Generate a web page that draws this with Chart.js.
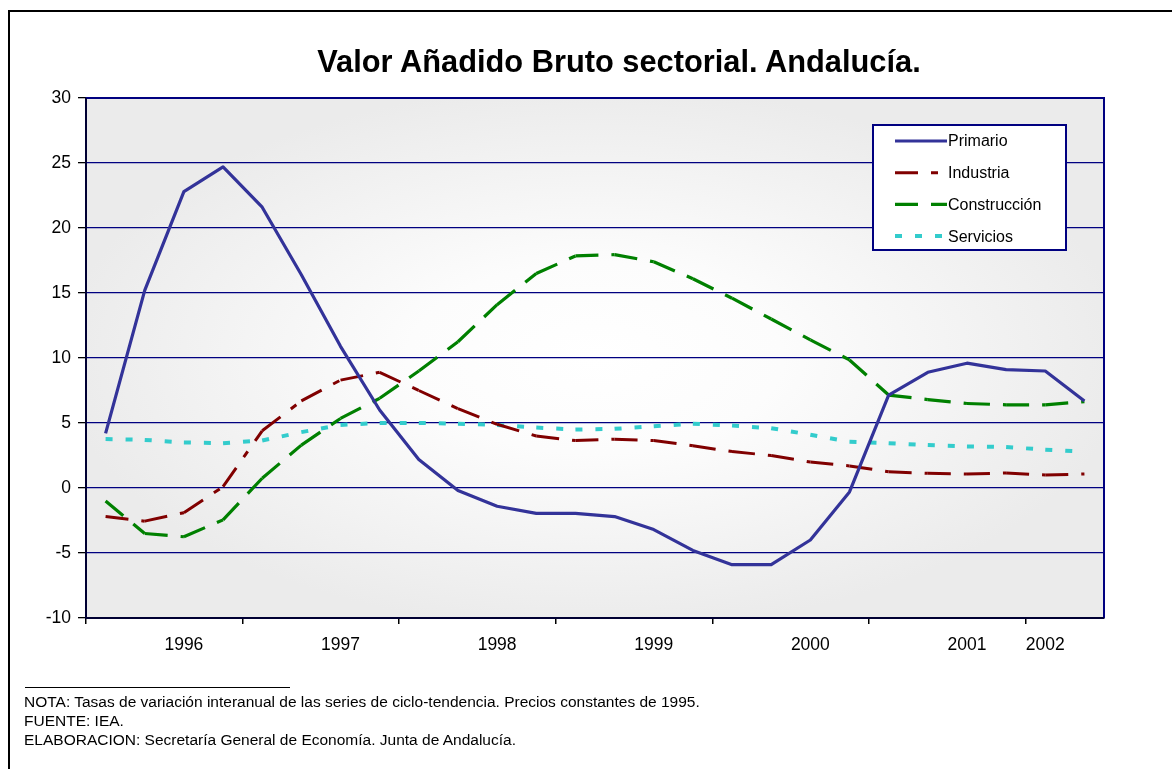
<!DOCTYPE html>
<html>
<head>
<meta charset="utf-8">
<title>Valor Añadido Bruto sectorial. Andalucía.</title>
<script src="https://cdn.jsdelivr.net/npm/chart.js@4.4.1/dist/chart.umd.min.js"></script>
<style>
  html, body { margin: 0; padding: 0; overflow: hidden; background: #fff; }
  body { font-family: Arial, "Liberation Sans", sans-serif; color: #000; }
  #frame { position: absolute; left: 8px; top: 10px; width: 1300px; height: 900px; border: 2px solid #000; }
  #wrap { position: absolute; left: 0; top: 0; width: 1172px; height: 769px; }
  #title { position: absolute; left: 0; top: 44px; width: 1238px; text-align: center;
           font-weight: bold; font-size: 30.8px; line-height: 36px; }
  #rule { position: absolute; left: 25px; top: 687px; width: 265px; border-top: 1px solid #000; }
  #notes { position: absolute; left: 24px; top: 692px; font-size: 15.5px; line-height: 19px; }
</style>
</head>
<body>
<div id="frame"></div>
<div id="wrap"><canvas id="vabChart"></canvas></div>
<div id="title">Valor Añadido Bruto sectorial. Andalucía.</div>
<div id="rule"></div>
<div id="notes">
  NOTA: Tasas de variación interanual de las series de ciclo-tendencia. Precios constantes de 1995.<br>
  FUENTE: IEA.<br>
  ELABORACION: Secretaría General de Economía. Junta de Andalucía.
</div>
<script>
// trimestres: solo se rotula el año en algunas posiciones
var categories = ["", "", "1996", "", "", "", "1997", "", "", "", "1998", "", "", "",
  "1999", "", "", "", "2000", "", "", "", "2001", "", "2002", ""];

var primario = [4.2, 15.2, 22.8, 24.7, 21.6, 16.4, 10.9, 6.0, 2.2, -0.2, -1.4, -1.95, -1.95,
  -2.2, -3.2, -4.8, -5.9, -5.9, -4.0, -0.3, 7.15, 8.9, 9.6, 9.1, 9.0, 6.7];
var industria = [-2.2, -2.55, -1.9, 0.1, 4.4, 6.7, 8.3, 8.9, 7.5, 6.1, 4.9, 4.0, 3.65,
  3.75, 3.65, 3.25, 2.8, 2.5, 2.0, 1.7, 1.25, 1.13, 1.08, 1.15, 1.0, 1.08];
var construccion = [-1.0, -3.5, -3.75, -2.45, 0.75, 3.3, 5.35, 6.9, 9.0, 11.25, 14.1, 16.5, 17.85,
  17.95, 17.4, 16.1, 14.6, 13.0, 11.4, 9.85, 7.15, 6.8, 6.5, 6.4, 6.4, 6.65];
var servicios = [3.77, 3.7, 3.5, 3.45, 3.65, 4.3, 4.85, 5.0, 5.0, 4.95, 4.85, 4.65, 4.5,
  4.55, 4.75, 4.95, 4.8, 4.6, 4.1, 3.55, 3.45, 3.3, 3.2, 3.15, 2.95, 2.8];

var seriesNames = ["Primario", "Industria", "Construcción", "Servicios"];
var yMin = -10, yMax = 30, yStep = 5;

// el patron de trazos se reinicia en cada tramo, como en Excel
var restartDash = {
  borderDashOffset: function (c) { return c.p0DataIndex % 2 ? 0.001 : 0; }
};

// fondo gris degradado del area de trazado
var plotBg = {
  id: "plotBg",
  beforeDraw: function (chart) {
    var a = chart.chartArea, ctx = chart.ctx;
    var w = a.right - a.left, h = a.bottom - a.top;
    ctx.save();
    ctx.translate(a.left + w / 2, a.top + h / 2);
    ctx.scale(w / 2, h / 2);
    var g = ctx.createRadialGradient(0, 0, 0, 0, 0, 1.05);
    g.addColorStop(0, "#ffffff");
    g.addColorStop(0.35, "#fcfcfc");
    g.addColorStop(1, "#ebebeb");
    ctx.fillStyle = g;
    ctx.fillRect(-1, -1, 2, 2);
    ctx.restore();
  }
};

// marco del area y leyenda dentro del grafico
var frameAndLegend = {
  id: "frameAndLegend",
  afterDatasetsDraw: function (chart) {
    var a = chart.chartArea, ctx = chart.ctx;
    ctx.save();
    ctx.strokeStyle = "#000080";
    ctx.lineWidth = 2;
    ctx.beginPath();
    ctx.moveTo(a.left, a.top);
    ctx.lineTo(a.right, a.top);
    ctx.lineTo(a.right, a.bottom);
    ctx.stroke();
    ctx.strokeStyle = "#000033";
    ctx.beginPath();
    ctx.moveTo(a.left, a.top);
    ctx.lineTo(a.left, a.bottom);
    ctx.lineTo(a.right, a.bottom);
    ctx.stroke();

    var x = a.left + 787, y = a.top + 27, w = 193, h = 125;
    ctx.fillStyle = "#fff";
    ctx.fillRect(x, y, w, h);
    ctx.strokeStyle = "#000080";
    ctx.lineWidth = 2;
    ctx.strokeRect(x, y, w, h);
    chart.data.datasets.forEach(function (ds, i) {
      var cy = y + 16 + i * 31.7;
      ctx.beginPath();
      ctx.setLineDash(ds.borderDash || []);
      ctx.lineCap = "butt";
      ctx.strokeStyle = ds.borderColor;
      ctx.lineWidth = ds.borderWidth;
      ctx.moveTo(x + 22, cy);
      ctx.lineTo(x + 74, cy);
      ctx.stroke();
      ctx.setLineDash([]);
      ctx.fillStyle = "#000";
      ctx.font = "16px Arial, 'Liberation Sans', sans-serif";
      ctx.textBaseline = "middle";
      ctx.fillText(ds.label, x + 75, cy + 1);
    });
    ctx.restore();
  }
};

var ctx = document.getElementById("vabChart").getContext("2d");
var vabChart = new Chart(ctx, {
  type: "line",
  data: {
    labels: categories,
    datasets: [
      { label: seriesNames[0], data: primario, borderColor: "#333399", borderWidth: 3.2,
        borderJoinStyle: "round", pointRadius: 0, tension: 0 },
      { label: seriesNames[1], data: industria, borderColor: "#800000", borderWidth: 3,
        borderDash: [23, 13, 7, 13], pointRadius: 0, segment: restartDash },
      { label: seriesNames[2], data: construccion, borderColor: "#008000", borderWidth: 3.2,
        borderDash: [23, 13], pointRadius: 0, segment: restartDash },
      { label: seriesNames[3], data: servicios, borderColor: "#33CCCC", borderWidth: 4,
        borderDash: [7, 13], pointRadius: 0, segment: restartDash }
    ]
  },
  options: {
    responsive: true,
    maintainAspectRatio: false,
    animation: false,
    layout: { padding: { top: 98, right: 68, left: 0, bottom: 0 } },
    plugins: {
      legend: { display: false },
      title: { display: false },
      tooltip: { enabled: false }
    },
    scales: {
      x: {
        offset: true,
        afterFit: function (s) { s.height = 151; },
        grid: {
          offset: true,
          drawOnChartArea: false,
          tickLength: 6,
          lineWidth: 1.5,
          color: function (c) { return c.index % 4 === 0 ? "#000" : "rgba(0,0,0,0)"; },
          tickColor: function (c) { return c.index % 4 === 0 ? "#000" : "rgba(0,0,0,0)"; }
        },
        border: { display: true, color: "#000033", width: 2 },
        ticks: {
          autoSkip: false, maxRotation: 0, minRotation: 0, padding: 11, color: "#000",
          font: { family: "Arial, 'Liberation Sans', sans-serif", size: 17.5 }
        }
      },
      y: {
        min: yMin,
        max: yMax,
        afterFit: function (s) { s.width = 86; },
        grid: { color: "#000080", lineWidth: 1.3, tickLength: 8, tickColor: "#000" },
        border: { display: true, color: "#000033", width: 2 },
        ticks: {
          stepSize: yStep, padding: 7, color: "#000",
          font: { family: "Arial, 'Liberation Sans', sans-serif", size: 17.5 }
        }
      }
    }
  },
  plugins: [plotBg, frameAndLegend]
});
</script>
</body>
</html>
